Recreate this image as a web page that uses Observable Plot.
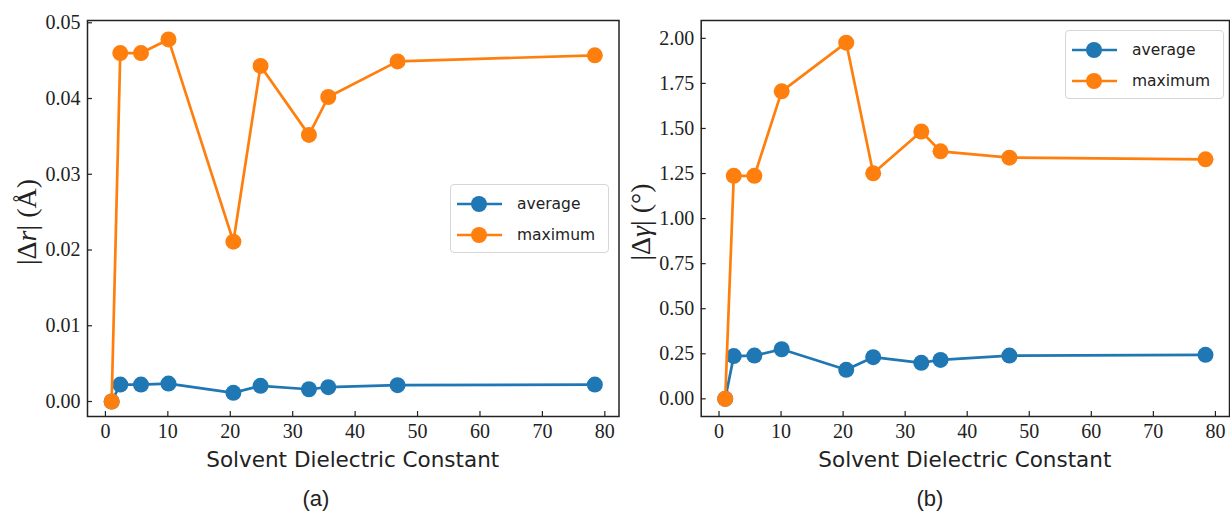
<!DOCTYPE html>
<html>
<head>
<meta charset="utf-8">
<script src="https://cdn.jsdelivr.net/npm/d3@7"></script>
<script src="https://cdn.jsdelivr.net/npm/@observablehq/plot@0.6"></script>
<style>
  body { margin: 0; background: #fff; }
  #wrap { position: relative; width: 1230px; height: 511px; overflow: hidden; background: #fff; }
  .panel { position: absolute; top: 0; }
  .legend { position: absolute; width: 157px; height: 67px; border: 1px solid #d6d6d6; border-radius: 4px;
            background: rgba(255,255,255,0.8); font-family: "DejaVu Sans"; font-size: 15.5px; color: #222; }
  .legend .row { position: absolute; left: 0; height: 20px; width: 157px; }
  .legend svg { position: absolute; left: 0; top: 0; }
  .legend span { position: absolute; left: 66px; top: 0; line-height: 20px; white-space: nowrap; }
  .caption { position: absolute; top: 487px; width: 60px; text-align: center; font-family: "Liberation Sans";
             font-size: 22px; line-height: 24px; color: #222; }
</style>
</head>
<body>
<div id="wrap"></div>
<script>
// ---- data ----
const dielectric = [1, 2.38, 5.7, 10.1, 20.5, 24.85, 32.6, 35.7, 46.8, 78.4];
const drAverage  = [0, 0.00224, 0.00224, 0.00237, 0.00115, 0.00207, 0.00162, 0.00189, 0.00215, 0.00224];
const drMaximum  = [0, 0.0460, 0.0460, 0.0478, 0.0211, 0.0443, 0.0352, 0.0402, 0.0449, 0.0457];
const dgAverage  = [0, 0.237, 0.240, 0.275, 0.161, 0.231, 0.200, 0.216, 0.240, 0.244];
const dgMaximum  = [0, 1.237, 1.237, 1.706, 1.976, 1.251, 1.483, 1.373, 1.338, 1.329];
const xTicks  = [0, 10, 20, 30, 40, 50, 60, 70, 80];
const drTicks = [0, 0.01, 0.02, 0.03, 0.04, 0.05];
const dgTicks = [0, 0.25, 0.5, 0.75, 1.0, 1.25, 1.5, 1.75, 2.0];
const seriesNames = ["average", "maximum"];
const xTitle = "Solvent Dielectric Constant";

const avgColor = "#1f77b4", maxColor = "#ff7f0e";
const wrap = document.getElementById("wrap");

function makePanel({left, width, marginLeft, marginRight, yDomain, yTicks, avg, max, ylabel, caption, capCenter, legendPos}) {
  const rows = dielectric.map((x, i) => ({x, avg: avg[i], max: max[i]}));
  const chart = Plot.plot({
    width, height: 480,
    marginTop: 20, marginBottom: 64, marginLeft, marginRight,
    style: {fontFamily: "Liberation Serif", fontSize: "20px", background: "transparent", color: "#222", maxWidth: "none", overflow: "visible"},
    x: {domain: [-2.87, 82.27]},
    y: {domain: yDomain},
    marks: [
      Plot.axisX({ticks: xTicks, tickSize: -5, tickPadding: 12, label: null, tickFormat: d => String(d), strokeWidth: 1.2}),
      Plot.axisY({ticks: yTicks, tickSize: -5, tickPadding: 12, label: null, tickFormat: d3.format(".2f"), strokeWidth: 1.2}),
      Plot.line(rows, {x: "x", y: "avg", stroke: avgColor, strokeWidth: 2.7}),
      Plot.dot(rows, {x: "x", y: "avg", r: 8, fill: avgColor}),
      Plot.line(rows, {x: "x", y: "max", stroke: maxColor, strokeWidth: 2.7}),
      Plot.dot(rows, {x: "x", y: "max", r: 8, fill: maxColor}),
      Plot.frame({stroke: "#222", strokeWidth: 1.5})
    ]
  });
  chart.classList.add("panel");
  chart.style.left = left + "px";
  const svg = d3.select(chart);
  // x title
  svg.append("text")
    .attr("x", (marginLeft + width - marginRight) / 2).attr("y", 467)
    .attr("text-anchor", "middle")
    .attr("font-family", "DejaVu Sans").attr("font-size", 21.5).attr("fill", "#222")
    .text(xTitle);
  // y title
  const yt = svg.append("text")
    .attr("transform", `translate(${ylabel.x},222) rotate(-90)`)
    .attr("text-anchor", "middle").attr("dominant-baseline", "central")
    .attr("font-family", "Liberation Serif").attr("font-size", 28).attr("fill", "#222");
  yt.append("tspan").text("|Δ");
  yt.append("tspan").attr("font-style", "italic").text(ylabel.sym);
  yt.append("tspan").text("| (" + ylabel.unit + ")");
  wrap.appendChild(chart);

  // legend
  const lg = document.createElement("div");
  lg.className = "legend";
  lg.style.left = legendPos[0] + "px";
  lg.style.top = legendPos[1] + "px";
  [avgColor, maxColor].forEach((c, i) => {
    const row = document.createElement("div");
    row.className = "row";
    row.style.top = (8.5 + i * 31) + "px";
    row.innerHTML = `<svg width="60" height="20"><line x1="6" x2="51" y1="10" y2="10" stroke="${c}" stroke-width="2.7"/><circle cx="28" cy="10" r="8" fill="${c}"/></svg><span>${seriesNames[i]}</span>`;
    lg.appendChild(row);
  });
  wrap.appendChild(lg);

  const cap = document.createElement("div");
  cap.className = "caption";
  cap.style.left = (capCenter - 30) + "px";
  cap.textContent = caption;
  wrap.appendChild(cap);
}

makePanel({left: 0, width: 620, marginLeft: 87, marginRight: 1.5,
  yDomain: [-0.00198, 0.0503], yTicks: drTicks, avg: drAverage, max: drMaximum,
  ylabel: {x: 26, sym: "r", unit: "Å"}, caption: "(a)", capCenter: 316, legendPos: [450, 184]});
makePanel({left: 615, width: 615, marginLeft: 85.7, marginRight: 1,
  yDomain: [-0.098, 2.099], yTicks: dgTicks, avg: dgAverage, max: dgMaximum,
  ylabel: {x: 25, sym: "γ", unit: "°"}, caption: "(b)", capCenter: 930, legendPos: [1065, 30]});
</script>
</body>
</html>
